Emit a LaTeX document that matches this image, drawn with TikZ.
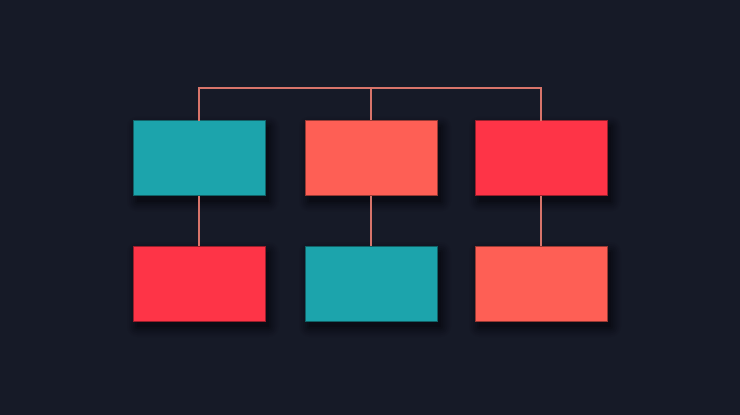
\documentclass[tikz,border=0pt]{standalone}
\definecolor{bg}{HTML}{161A27}
\definecolor{teal}{HTML}{1CA4AC}
\definecolor{coral}{HTML}{FE5F55}
\definecolor{redb}{HTML}{FE3447}
\definecolor{linec}{HTML}{D8746A}
\tikzset{
  box/.style={minimum width=132pt,minimum height=75pt,inner sep=0pt,draw=black!40!#1,line width=0.4pt,fill=#1},
  conn/.style={linec,line width=1.6pt},
}
\newcommand{\boxshadow}[2]{%
  \foreach \s/\o in {10/0.04,8/0.05,6/0.07,4/0.09,2/0.12,0/0.15}{%
    \fill[black,opacity=\o,rounded corners=\s pt] ($(#1)+(-66pt+4pt-\s pt,-37.5pt-6pt-\s pt)$) rectangle ($(#1)+(66pt+4pt+\s pt,37.5pt-6pt+\s pt)$);
  }%
}
\usetikzlibrary{calc}
\begin{document}
\begin{tikzpicture}[x=1pt,y=-1pt]
\fill[bg] (0,0) rectangle (740,415);
\useasboundingbox (0,0) rectangle (740,415);
\coordinate (c1) at (199,158);
\coordinate (c2) at (371,158);
\coordinate (c3) at (541,158);
\coordinate (d1) at (199,283.5);
\coordinate (d2) at (371,283.5);
\coordinate (d3) at (541,283.5);
\foreach \c in {c1,c2,c3,d1,d2,d3}{\boxshadow{\c}{}}
\coordinate (top1) at (199,88);
\coordinate (top3) at (541,88);
\coordinate (top2) at (371,88);
\node[box=teal] (a1) at (c1) {};
\node[box=coral] (a2) at (c2) {};
\node[box=redb] (a3) at (c3) {};
\node[box=redb] (b1) at (d1) {};
\node[box=teal] (b2) at (d2) {};
\node[box=coral] (b3) at (d3) {};
\draw[conn,line cap=rect] (a1.north) -- (top1) -- (top3) -- (a3.north);
\draw[conn] (top2) -- (a2.north);
\draw[conn] (a1.south) -- (b1.north);
\draw[conn] (a2.south) -- (b2.north);
\draw[conn] (a3.south) -- (b3.north);
\end{tikzpicture}
\end{document}
